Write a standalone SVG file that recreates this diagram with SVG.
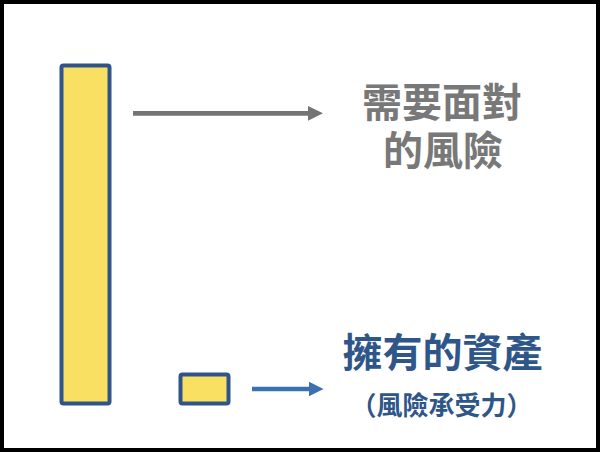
<svg xmlns="http://www.w3.org/2000/svg" width="600" height="452" viewBox="0 0 600 452">
  <style>
    .bar { fill: #f9e062; stroke: #2f5487; stroke-width: 4; }
    .t { font-family: "Noto Sans CJK TC", "Noto Sans CJK SC", sans-serif; font-weight: bold; text-anchor: middle; }
    .gray { fill: #787878; }
    .blue { fill: #2f5688; }
  </style>
  <rect x="0" y="0" width="600" height="452" fill="#ffffff"/>
  <rect x="2" y="2" width="596" height="448" fill="none" stroke="#000000" stroke-width="4"/>

  <g id="risk-bar">
    <rect class="bar" x="61.5" y="65.5" width="48" height="338" rx="2"/>
  </g>
  <g id="asset-bar">
    <rect class="bar" x="180.5" y="374.5" width="48" height="29" rx="2"/>
  </g>

  <g id="connectors">
    <line x1="133" y1="113.3" x2="309" y2="113.3" stroke="#747474" stroke-width="4.7"/>
    <polygon points="308,106 323,113.3 308,120.7" fill="#747474"/>
    <line x1="252" y1="389" x2="310" y2="389" stroke="#3d70b0" stroke-width="4.5"/>
    <polygon points="309,381.7 323.5,389 309,396.3" fill="#3d70b0"/>
  </g>

  <g id="risk-label">
    <text class="t gray" x="442" y="117" font-size="40">需要面對</text>
    <text class="t gray" x="443" y="165" font-size="40">的風險</text>
  </g>
  <g id="asset-label">
    <text class="t blue" x="442.5" y="367" font-size="40">擁有的資產</text>
    <text class="t blue" x="441.5" y="415" font-size="26">（風險承受力）</text>
  </g>
</svg>
